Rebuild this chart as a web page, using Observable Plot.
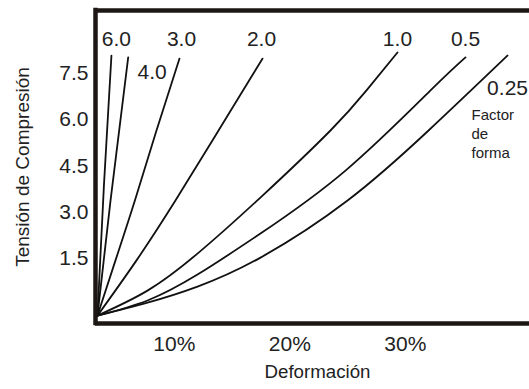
<!DOCTYPE html>
<html><head><meta charset="utf-8">
<script src="https://cdn.jsdelivr.net/npm/d3@7"></script>
<script src="https://cdn.jsdelivr.net/npm/@observablehq/plot@0.6"></script>
<style>
html,body{margin:0;padding:0;background:#fff;}
</style></head><body><div id="chart"></div>
<script>
// Shape factors (curve labels)
const factors = ["6.0","4.0","3.0","2.0","1.0","0.5","0.25"];
// Deformación (%) and Tensión de Compresión, per curve
const strain_6_0  = [3.35, 3.91, 4.56];
const stress_6_0  = [-0.35, 3.87, 8.08];
const strain_4_0  = [3.35, 4.48, 6.01];
const stress_4_0  = [-0.35, 3.38, 8.02];
const strain_3_0  = [3.35, 4.91, 6.59, 8.46, 10.45];
const stress_3_0  = [-0.35, 1.44, 3.38, 5.65, 7.98];
const strain_2_0  = [3.35, 6.73, 10.10, 13.83, 17.64];
const stress_2_0  = [-0.35, 1.44, 3.38, 5.65, 7.98];
const strain_1_0  = [3.35, 7.68, 12.01, 17.64, 23.52, 26.64, 29.32];
const stress_1_0  = [-0.35, 0.46, 1.66, 3.54, 5.65, 6.95, 8.18];
const strain_0_5  = [3.35, 7.68, 12.01, 17.46, 24.82, 32.18, 35.21];
const stress_0_5  = [-0.35, 0.14, 0.98, 2.31, 4.35, 6.95, 8.02];
const strain_0_25 = [3.35, 7.68, 12.01, 17.46, 25.00, 32.01, 38.85];
const stress_0_25 = [-0.35, 0.07, 0.59, 1.53, 3.38, 5.65, 8.08];

// Tick labels
const xTicks = [10, 20, 30];
const yTicks = [1.5, 3.0, 4.5, 6.0, 7.5];
const xTitle = "Deformación";
const yTitle = "Tensión de Compresión";
const factorNote = "Factor\nde\nforma";

const strains = [strain_6_0, strain_4_0, strain_3_0, strain_2_0, strain_1_0, strain_0_5, strain_0_25];
const stresses = [stress_6_0, stress_4_0, stress_3_0, stress_2_0, stress_1_0, stress_0_5, stress_0_25];

const rows = factors.flatMap((f, i) => strains[i].map((s, j) => ({factor: f, strain: s, stress: stresses[i][j]})));
const ends = factors.map((f, i) => ({factor: f, strain: strains[i].at(-1), stress: stresses[i].at(-1)}));

const xDomain = [3.18, 40.75];
const yDomain = [-0.606, 9.54];
const pxPerUnit = 434 / (xDomain[1] - xDomain[0]);

const topLabels = ends.filter(d => ["6.0","3.0","2.0","1.0","0.5"].includes(d.factor));
const nudge = {"6.0": 5, "3.0": 2, "2.0": -1, "1.0": 0, "0.5": 0};

const ink = "#1c1714";
const plot = Plot.plot({
  width: 529,
  height: 389,
  marginLeft: 95,
  marginRight: 0,
  marginTop: 10,
  marginBottom: 66,
  style: {fontFamily: "'Liberation Sans', Arial, Helvetica, sans-serif", color: "#222", background: "#fff", fontSize: "21px"},
  x: {domain: xDomain, label: null},
  y: {domain: yDomain, label: null},
  marks: [
    Plot.line(rows, {x: "strain", y: "stress", z: "factor", curve: "natural", stroke: "#111", strokeWidth: 1.8}),
    Plot.ruleX([xDomain[0]], {stroke: ink, strokeWidth: 4.5, strokeLinecap: "square"}),
    Plot.ruleY([yDomain[0]], {stroke: ink, strokeWidth: 4.5}),
    Plot.ruleY([yDomain[1]], {stroke: ink, strokeWidth: 4.5}),
    Plot.axisX({ticks: xTicks, tickSize: 0, tickPadding: 13, tickFormat: d => d + "%", fontSize: 21, label: null}),
    Plot.axisY({ticks: yTicks, tickSize: 0, tickPadding: 7, tickFormat: d3.format(".1f"), fontSize: 21, label: null}),
    Plot.text(topLabels, {x: d => d.strain + nudge[d.factor] / pxPerUnit, y: () => 8.6, text: "factor", fontSize: 21, fill: "#222"}),
    Plot.text(ends.filter(d => d.factor === "4.0"), {x: "strain", y: "stress", text: "factor", dx: 24, dy: 15, fontSize: 21, fill: "#222"}),
    Plot.text(ends.filter(d => d.factor === "0.25"), {x: "strain", y: "stress", text: "factor", dx: 0, dy: 33, fontSize: 21, fill: "#222"}),
    Plot.text([factorNote], {x: () => 35.73, y: () => 5.585, text: d => d, textAnchor: "start", lineAnchor: "middle", lineHeight: 1.27, fontSize: 15, fill: "#222"}),
    Plot.text([xTitle], {frameAnchor: "bottom", dx: 5, dy: 54, fontSize: 18.7, fill: "#222"}),
    Plot.text([yTitle], {frameAnchor: "left", textAnchor: "middle", dx: -73, rotate: -90, fontSize: 19, fill: "#222"})
  ]
});
document.getElementById("chart").appendChild(plot);
</script>
</body></html>
